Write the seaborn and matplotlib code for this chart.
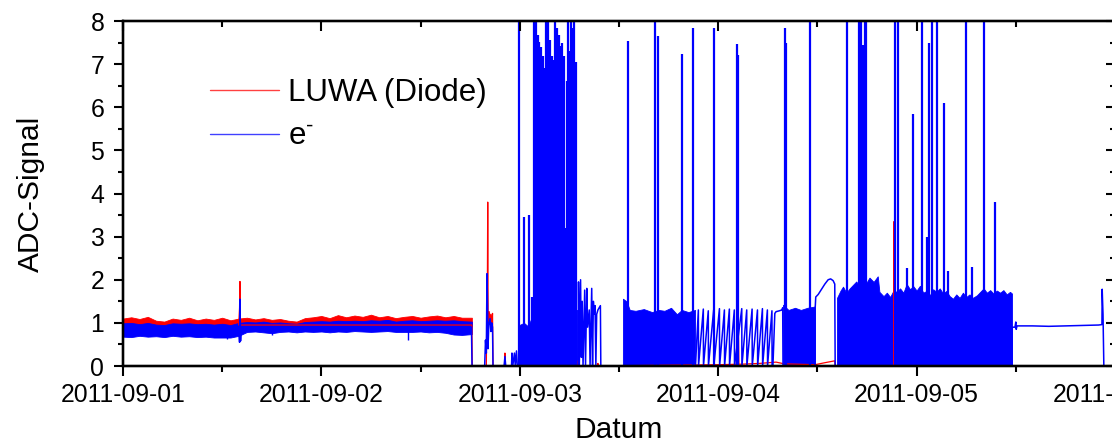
import matplotlib.pyplot as plt
import matplotlib.dates as mdates
import numpy as np
import pandas as pd
import seaborn as sns
from matplotlib.lines import Line2D
from matplotlib.ticker import MultipleLocator

START = pd.Timestamp('2011-09-01')
RED = '#ff0000'
BLUE = '#0000ff'

# all times are hours after 2011-09-01 00:00, values are ADC readings
# quiet phase (noise band) read once per hour
quiet_hours = [0, 1, 2, 3, 4, 5, 6, 7, 8, 9, 10, 11, 12, 13, 14, 15, 16, 17,
               18, 19, 20, 21, 22, 23, 24, 25, 26, 27, 28, 29, 30, 31, 32, 33,
               34, 35, 36, 37, 38, 39, 40, 41, 42.2]
luwa_quiet_top = [1.10, 1.13, 1.09, 1.14, 1.05, 1.03, 1.10, 1.07, 1.12, 1.06,
                  1.10, 1.07, 1.12, 1.06, 1.10, 1.12, 1.08, 1.11, 1.07, 1.09,
                  1.05, 1.03, 1.11, 1.13, 1.16, 1.11, 1.18, 1.13, 1.17, 1.14,
                  1.19, 1.13, 1.16, 1.11, 1.14, 1.16, 1.12, 1.15, 1.17, 1.13,
                  1.16, 1.12, 1.12]
luwa_quiet_bottom = [0.90, 0.90, 0.90, 0.90, 0.90, 0.90, 0.90, 0.90, 0.90,
                     0.90, 0.90, 0.90, 0.90, 0.90, 0.90, 0.92, 0.92, 0.92,
                     0.92, 0.92, 0.92, 0.92, 0.92, 0.92, 0.92, 0.92, 0.92,
                     0.92, 0.92, 0.92, 0.92, 0.92, 0.92, 0.92, 0.92, 0.92,
                     0.92, 0.92, 0.92, 0.92, 0.92, 0.92, 0.92]
e_quiet_top = [0.99, 1.00, 0.97, 1.00, 0.96, 0.95, 0.99, 0.98, 0.99, 0.97,
               0.98, 0.96, 0.98, 0.95, 1.00, 1.02, 1.01, 1.03, 1.00, 1.01,
               0.99, 0.98, 1.02, 1.03, 1.04, 1.03, 1.05, 1.04, 1.05, 1.04,
               1.06, 1.05, 1.07, 1.03, 1.05, 1.06, 1.04, 1.05, 1.06, 1.05,
               1.06, 1.04, 1.03]
e_quiet_bottom = [0.68, 0.67, 0.70, 0.68, 0.69, 0.67, 0.70, 0.68, 0.69, 0.67,
                  0.68, 0.66, 0.66, 0.66, 0.70, 0.79, 0.80, 0.78, 0.76, 0.79,
                  0.80, 0.78, 0.80, 0.79, 0.80, 0.78, 0.80, 0.79, 0.81, 0.80,
                  0.79, 0.80, 0.81, 0.79, 0.79, 0.79, 0.80, 0.78, 0.79, 0.77,
                  0.73, 0.72, 0.74]
e_dip_hours = [12.6, 18.0, 34.5]
e_dip_lows = [0.63, 0.72, 0.60]

# dense blue blocks (filled from zero up to the envelope)
e_dense_hours = [47.93, 47.94, 48.5, 49.0, 49.5, 50.2, 51.0, 52.0, 53.0, 54.0,
                 54.96, 54.97, 60.47, 60.48, 60.9, 61.3, 62.0, 63.0, 64.0,
                 64.8, 65.5, 66.3, 67.0, 67.6, 68.4, 69.2, 69.21, 79.83,
                 79.84, 80.5, 81.3, 82.0, 82.8, 83.71, 83.72, 86.36, 86.37,
                 86.8, 87.1, 87.5, 87.9, 88.3, 88.7, 89.1, 89.5, 89.9, 90.3,
                 90.8, 91.3, 91.5, 92.0, 92.4, 92.8, 93.2, 93.6, 94.0, 94.4,
                 94.8, 95.2, 95.6, 96.0, 96.4, 96.8, 97.2, 97.6, 98.0, 98.4,
                 98.8, 99.2, 99.6, 100.0, 100.4, 100.8, 101.2, 101.6, 102.0,
                 102.4, 102.8, 103.3, 103.7, 104.1, 104.5, 104.9, 105.3,
                 105.7, 106.1, 106.5, 106.9, 107.3, 107.54, 107.55]
e_dense_top = [0.00, 0.95, 1.00, 0.92, 1.15, 1.20, 1.25, 1.18, 1.28, 1.22,
               1.30, 0.00, 0.00, 1.56, 1.50, 1.30, 1.28, 1.32, 1.25, 1.30,
               1.28, 1.35, 1.20, 1.30, 1.25, 1.30, 0.00, 0.00, 1.42, 1.30,
               1.35, 1.30, 1.35, 1.38, 0.00, 0.00, 1.58, 1.75, 1.84, 1.70,
               1.80, 1.88, 1.96, 1.85, 2.02, 1.92, 2.05, 1.95, 2.08, 1.72,
               1.62, 1.70, 1.60, 1.75, 1.72, 1.80, 1.70, 1.90, 1.78, 1.85,
               1.75, 1.86, 1.70, 1.74, 1.64, 1.78, 1.72, 1.80, 1.68, 1.74,
               1.62, 1.56, 1.66, 1.58, 1.70, 1.60, 1.66, 1.58, 1.64, 1.72,
               1.80, 1.70, 1.76, 1.68, 1.75, 1.70, 1.76, 1.66, 1.72, 1.68,
               0.00]

# single blue spikes
e_spike_hours = [47.94, 48.55, 49.08, 49.44, 49.76, 49.86, 49.96, 50.07,
                 50.17, 50.27, 50.36, 50.47, 50.57, 50.67, 50.77, 50.93,
                 51.05, 51.17, 51.3, 51.45, 51.55, 51.65, 51.78, 51.9, 52.05,
                 52.18, 52.3, 52.42, 52.54, 52.66, 52.78, 52.95, 53.05,
                 53.14, 53.25, 53.38, 53.6, 53.75, 53.87, 54.0, 54.19, 54.3,
                 54.4, 54.56, 54.68, 54.8, 61.09, 64.36, 64.72, 67.62, 68.95,
                 71.53, 74.27, 74.4, 80.08, 80.2, 83.1, 87.54, 89.03, 89.28,
                 89.52, 89.76, 89.88, 93.39, 93.75, 94.8, 95.57, 96.65, 97.22,
                 97.38, 97.5, 97.87, 98.47, 99.32, 99.8, 101.98, 102.7,
                 104.16, 105.49]
e_spike_tops = [8.0, 3.46, 3.5, 1.6, 8.0, 7.3, 8.0, 7.1, 7.68, 6.9, 7.52,
                7.0, 7.4, 6.8, 7.2, 5.3, 6.9, 8.0, 7.4, 8.0, 7.0, 7.56, 6.9,
                7.2, 7.1, 6.7, 8.0, 7.2, 7.83, 7.0, 7.68, 7.43, 6.9, 7.5, 6.8,
                7.2, 3.2, 6.6, 8.0, 7.3, 8.0, 7.1, 7.83, 8.0, 6.9, 7.06, 7.54,
                8.0, 7.66, 7.24, 7.84, 7.84, 7.47, 7.22, 7.84, 7.5, 8.0, 8.0,
                8.0, 8.0, 7.45, 8.0, 8.0, 8.0, 8.0, 2.27, 5.84, 8.0, 3.0, 2.9,
                7.49, 8.0, 8.0, 6.1, 2.2, 8.0, 2.3, 8.0, 3.8]

# blue trace outside the filled parts
e_trace_hours = [14.0, 14.1, 14.15, 14.22, 14.3, 42.15, 42.22, 43.75, 43.85,
                 43.95, 44.03, 44.1, 44.15, 44.25, 44.4, 44.5, 44.6, 44.7,
                 44.76, 46.1, 46.2, 46.3, 47.0, 47.05, 47.15, 47.35, 47.45,
                 47.6, 47.7, 55.05, 55.1, 55.2, 55.35, 55.45, 55.55, 55.65,
                 55.85, 55.95, 56.1, 56.2, 56.4, 56.5, 56.7, 56.8, 56.9, 57.0,
                 57.1, 57.2, 57.3, 57.45, 57.75, 57.8, 69.25, 69.6, 69.62,
                 70.2, 70.22, 70.8, 70.82, 71.45, 71.47, 72.15, 72.17, 72.75,
                 72.77, 73.35, 73.37, 73.95, 73.97, 74.85, 74.87, 75.45,
                 75.47, 76.1, 76.12, 76.75, 76.77, 77.35, 77.37, 77.95, 77.97,
                 78.5, 78.52, 78.62, 78.85, 79.0, 79.4, 79.7, 79.8, 79.84,
                 83.71, 83.72, 83.8, 84.1, 84.5, 84.9, 85.3, 85.6, 85.9, 86.1,
                 86.15, 107.54, 107.56, 107.9, 108.0, 108.05, 108.15, 110.0,
                 112.0, 114.0, 116.0, 118.0, 118.42, 118.45, 118.55, 118.65,
                 120.0]
e_trace_vals = [0.90, 0.55, 1.55, 0.58, 0.90, 0.90, 0.00, 0.00, 0.60, 0.30,
                2.14, 1.40, 0.40, 0.95, 1.10, 0.80, 1.00, 0.90, 0.00, 0.00,
                0.22, 0.00, 0.00, 0.30, 0.00, 0.30, 0.00, 0.35, 0.00, 0.00,
                1.95, 0.00, 2.00, 0.20, 1.50, 0.00, 1.76, 0.00, 1.80, 0.90,
                1.30, 0.00, 1.80, 0.00, 1.50, 1.20, 1.40, 0.00, 1.20, 1.30,
                1.40, 0.00, 0.00, 1.30, 0.00, 1.32, 0.00, 1.28, 0.00, 1.30,
                0.00, 1.33, 0.00, 1.30, 0.00, 1.32, 0.00, 1.30, 0.00, 1.33,
                0.00, 1.30, 0.00, 1.32, 0.00, 1.30, 0.00, 1.33, 0.00, 1.30,
                0.00, 1.28, 0.00, 0.00, 1.22, 1.26, 1.28, 1.30, 1.35, 0.00,
                0.00, 1.30, 1.60, 1.66, 1.78, 1.90, 2.00, 2.02, 1.98, 1.90,
                0.00, 0.00, 0.90, 0.90, 1.02, 0.85, 0.93, 0.93, 0.92, 0.93,
                0.94, 0.95, 0.96, 1.78, 1.20, 0.00, 0.00]

# red trace outside the quiet band
luwa_trace_hours = [14.0, 14.1, 14.15, 14.2, 42.2, 42.25, 43.95, 44.0, 44.05,
                    44.12, 44.17, 44.3, 44.4, 44.5, 44.6, 44.7, 44.76, 46.15,
                    46.2, 46.25, 55.0, 55.05, 55.1, 57.4, 57.45, 57.5, 67.0,
                    72.0, 74.2, 74.25, 74.45, 74.5, 77.0, 79.0, 80.0, 83.7,
                    85.0, 86.1, 86.15, 93.25, 93.27, 93.29, 120.0]
luwa_trace_vals = [0.95, 1.35, 1.96, 0.95, 0.95, 0.00, 0.00, 1.00, 0.60, 3.80,
                   1.00, 1.26, 1.05, 1.20, 0.95, 1.22, 0.00, 0.00, 0.30, 0.00,
                   0.00, 0.12, 0.00, 0.00, 0.06, 0.00, 0.02, 0.03, 0.04, 0.82,
                   0.80, 0.04, 0.06, 0.09, 0.05, 0.03, 0.08, 0.12, 0.00, 0.00,
                   3.35, 0.00, 0.00]


def to_time(hours):
    return (START + pd.to_timedelta(np.asarray(hours, dtype=float), unit='h')).to_numpy()


sns.set_style('white')
plt.rcParams['font.family'] = ['Liberation Sans', 'DejaVu Sans']
plt.rcParams['mathtext.fontset'] = 'custom'
plt.rcParams['mathtext.rm'] = 'Liberation Sans'
plt.rcParams['text.color'] = 'black'
plt.rcParams['axes.labelcolor'] = 'black'
plt.rcParams['xtick.color'] = 'black'
plt.rcParams['ytick.color'] = 'black'
plt.rcParams['axes.edgecolor'] = 'black'

fig = plt.figure(figsize=(11.12, 4.44), dpi=100)
ax = fig.add_axes([123 / 1112, 78 / 444, 992 / 1112, 345 / 444])

# LUWA (Diode)
ax.fill_between(to_time(quiet_hours), luwa_quiet_bottom, luwa_quiet_top,
                color=RED, lw=0.6)
sns.lineplot(x=to_time(luwa_trace_hours), y=luwa_trace_vals, sort=False,
             estimator=None, color=RED, lw=0.9, ax=ax)

# e-
ax.fill_between(to_time(quiet_hours), e_quiet_bottom, e_quiet_top,
                color=BLUE, lw=0.6)
ax.vlines(to_time(e_dip_hours), e_dip_lows, 0.85, color=BLUE, lw=1.0)
ax.fill_between(to_time(e_dense_hours), 0, e_dense_top, color=BLUE, lw=0.6)
sns.lineplot(x=to_time(e_trace_hours), y=e_trace_vals, sort=False,
             estimator=None, color=BLUE, lw=1.1, ax=ax)
ax.vlines(to_time(e_spike_hours), 0, e_spike_tops, color=BLUE, lw=1.6)

ax.set_xlim(to_time([0])[0], to_time([120])[0])
ax.set_ylim(0, 8)
ax.xaxis.set_major_locator(mdates.DayLocator())
ax.xaxis.set_minor_locator(mdates.HourLocator(byhour=[12]))
ax.xaxis.set_major_formatter(mdates.DateFormatter('%Y-%m-%d'))
ax.yaxis.set_major_locator(MultipleLocator(1))
ax.yaxis.set_minor_locator(MultipleLocator(0.5))
ax.tick_params(axis='x', which='major', direction='out', length=7.5,
               width=1.5, labelsize=17.8, pad=5)
ax.tick_params(axis='x', which='minor', direction='out', length=4.3,
               width=1.5)
ax.tick_params(axis='y', which='major', direction='out', length=6.5,
               width=1.5, labelsize=17.8, pad=7)
ax.tick_params(axis='y', which='minor', direction='out', length=3.5,
               width=1.5)
for sp in ax.spines.values():
    sp.set_linewidth(1.6)

# inward ticks on top and right
ax_top = ax.twiny()
ax_top.set_xlim(ax.get_xlim())
ax_top.xaxis.set_major_locator(mdates.DayLocator())
ax_top.xaxis.set_minor_locator(mdates.HourLocator(byhour=[12]))
ax_top.tick_params(axis='x', which='major', direction='in', length=7.5,
                   width=1.5, labeltop=False)
ax_top.tick_params(axis='x', which='minor', direction='in', length=4.3,
                   width=1.5)
ax_right = ax.twinx()
ax_right.set_ylim(0, 8)
ax_right.yaxis.set_major_locator(MultipleLocator(1))
ax_right.yaxis.set_minor_locator(MultipleLocator(0.5))
ax_right.tick_params(axis='y', which='major', direction='in', length=6.5,
                     width=1.5, labelright=False)
ax_right.tick_params(axis='y', which='minor', direction='in', length=3.5,
                     width=1.5)
for a in (ax_top, ax_right):
    for sp in a.spines.values():
        sp.set_linewidth(1.6)

ax.set_xlabel('Datum', fontsize=21.5)
ax.set_ylabel('ADC-Signal', fontsize=21.5)
ax.xaxis.set_label_coords(0.5, -0.145)
ax.yaxis.set_label_coords(-0.079, 0.5)

handles = [Line2D([], [], color=RED, lw=1.0, alpha=0.75),
           Line2D([], [], color=BLUE, lw=1.0, alpha=0.75)]
ax.legend(handles, ['LUWA (Diode)', 'e$^{\\mathregular{\u2010}}$'],
          loc='upper left', bbox_to_anchor=(0.088, 0.835), frameon=False,
          fontsize=22.5, handlelength=2.2, handletextpad=0.28,
          labelspacing=0.45, borderpad=0, borderaxespad=0)

fig.savefig('out.png', dpi=100)
